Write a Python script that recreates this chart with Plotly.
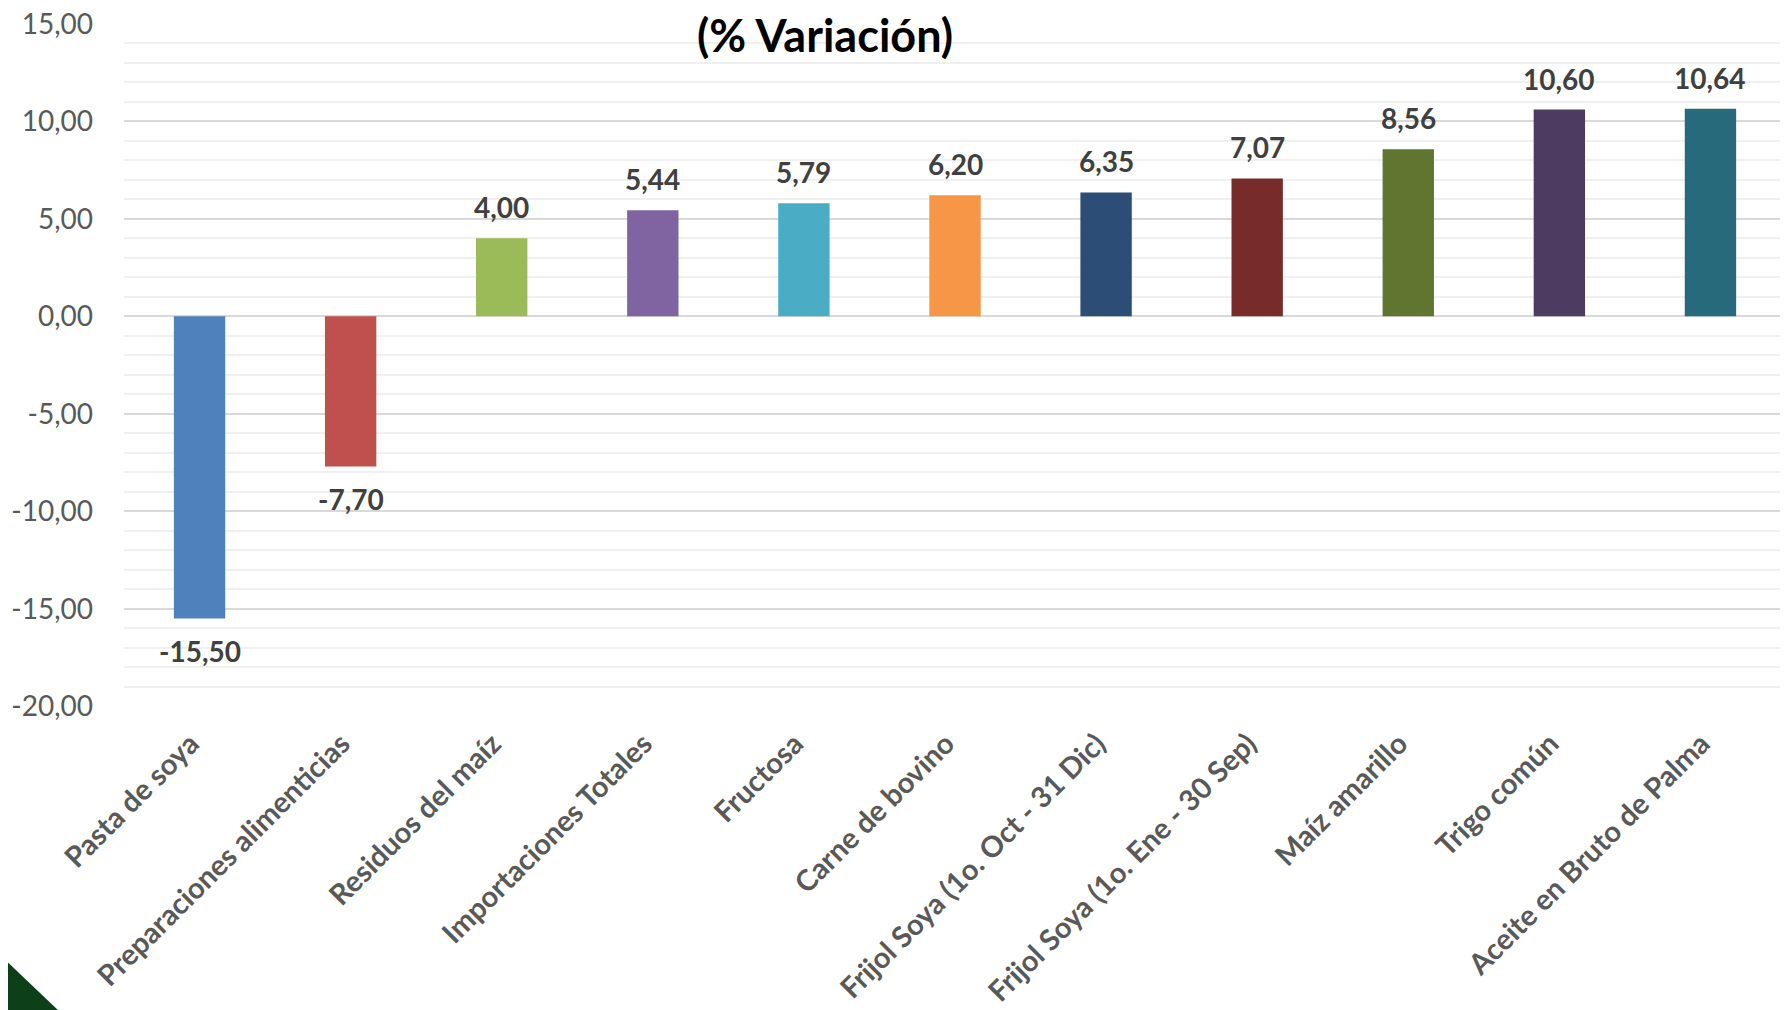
import plotly.graph_objects as go

categories = [
    "Pasta de soya",
    "Preparaciones alimenticias",
    "Residuos del maíz",
    "Importaciones Totales",
    "Fructosa",
    "Carne de bovino",
    "Frijol Soya (1o. Oct - 31 Dic)",
    "Frijol Soya (1o. Ene - 30 Sep)",
    "Maíz amarillo",
    "Trigo común",
    "Aceite en Bruto de Palma",
]
values = [-15.50, -7.70, 4.00, 5.44, 5.79, 6.20, 6.35, 7.07, 8.56, 10.60, 10.64]
bar_colors = ["#4F81BD", "#C0504D", "#9BBB59", "#8064A2", "#4BACC6", "#F79646",
              "#2C4D75", "#772C2A", "#5F7530", "#4D3B62", "#276A7C"]
y_tickvals = [-20, -15, -10, -5, 0, 5, 10, 15]
y_ticktext = ["-20,00", "-15,00", "-10,00", "-5,00", "0,00", "5,00", "10,00", "15,00"]
title_text = "(% Variación)"

FONT = "Lato"

fig = go.Figure()
fig.add_trace(go.Bar(
    x=categories,
    y=values,
    marker=dict(color=bar_colors, line=dict(width=0)),
    width=0.34,
    hoverinfo="skip",
))

annotations = []
for c, v in zip(categories, values):
    lab = f"{v:.2f}".replace(".", ",")
    annotations.append(dict(
        x=c, y=v, xref="x", yref="y",
        text=f"<b>{lab}</b>", showarrow=False,
        yanchor="bottom" if v >= 0 else "top",
        yshift=12 if v >= 0 else -14,
        font=dict(family=FONT, size=28, color="#404040"),
    ))

annotations.append(dict(
    x=0.4218, y=0.982, xref="paper", yref="paper",
    text=f"<b>{title_text}</b>", showarrow=False,
    xanchor="center", yanchor="middle",
    font=dict(family=FONT, size=45, color="#000000"),
))

fig.update_layout(
    width=1780, height=1002,
    margin=dict(l=116, r=2, t=15, b=303, pad=0),
    paper_bgcolor="white", plot_bgcolor="white",
    showlegend=False,
    annotations=annotations,
    shapes=[dict(
        type="path", xref="paper", yref="paper",
        path="M -0.0818 -0.346 L -0.0325 -0.4598 L -0.0818 -0.4598 Z",
        fillcolor="#0B4019", line=dict(width=0), layer="above",
    )],
)

fig.update_xaxes(
    automargin=False,
    tickangle=-45,
    tickfont=dict(family=FONT, size=29, color="#595959", weight="bold"),
    showgrid=False, zeroline=False, showline=False,
    ticks="", ticklabelstandoff=13, ticklabelshift=-9,
    ticklabeloverflow="allow",
)
fig.update_yaxes(
    automargin=False,
    range=[-20.04, 15.04],
    tickvals=y_tickvals, ticktext=y_ticktext,
    tickfont=dict(family=FONT, size=28, color="#595959"),
    showgrid=True, gridcolor="#D9D9D9", gridwidth=1.5,
    zeroline=True, zerolinecolor="#D9D9D9", zerolinewidth=1.5,
    minor=dict(dtick=1, showgrid=True, gridcolor="#F0F0F0", gridwidth=1.5),
    ticks="", ticklabelstandoff=30, showline=False,
    ticklabeloverflow="allow",
)

fig.write_html("out.html")
